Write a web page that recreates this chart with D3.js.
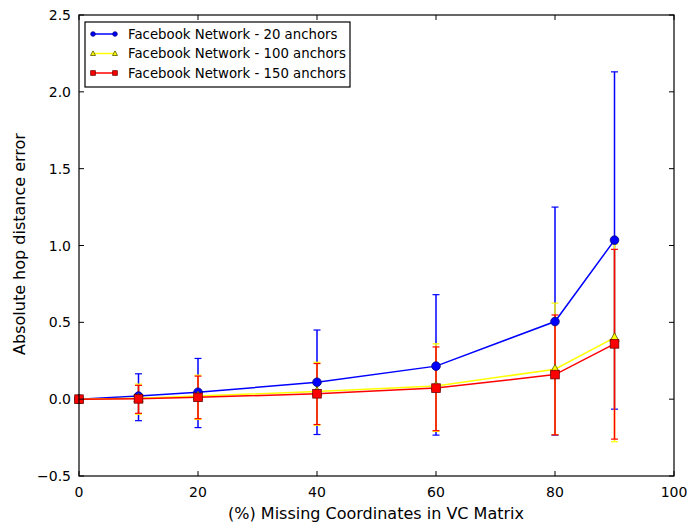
<!DOCTYPE html>
<html>
<head>
<meta charset="utf-8">
<script src="https://cdn.jsdelivr.net/npm/d3@7"></script>
<style>
  html, body { margin: 0; padding: 0; background: #fff; }
  svg { display: block; font-family: "DejaVu Sans", sans-serif; }
</style>
</head>
<body>
<svg id="chart" width="687" height="525"></svg>
<script>
// Missing coordinates (%) on the x axis
const missing = [0, 10, 20, 40, 60, 80, 90];

// Mean absolute hop distance error per anchor count
const err20 = [0, 0.02, 0.045, 0.11, 0.215, 0.505, 1.035];
const err100 = [0, 0.006, 0.02, 0.05, 0.085, 0.195, 0.40];
const err150 = [0, 0.002, 0.012, 0.035, 0.072, 0.16, 0.36];

// Error bar extents (lower / upper)
const lo20 = [0, -0.14, -0.185, -0.23, -0.234, -0.234, -0.065];
const hi20 = [0, 0.165, 0.265, 0.45, 0.68, 1.25, 2.13];
const lo100 = [0, -0.098, -0.132, -0.17, -0.21, -0.23, -0.277];
const hi100 = [0, 0.098, 0.156, 0.24, 0.36, 0.625, 1.01];
const lo150 = [0, -0.092, -0.127, -0.165, -0.205, -0.232, -0.26];
const hi150 = [0, 0.09, 0.15, 0.232, 0.34, 0.548, 0.975];

const seriesNames = [
  "Facebook Network - 20 anchors",
  "Facebook Network - 100 anchors",
  "Facebook Network - 150 anchors"
];

const xTicks = [0, 20, 40, 60, 80, 100];
const yTicks = [-0.5, 0.0, 0.5, 1.0, 1.5, 2.0, 2.5];

const series = [
  { name: seriesNames[0], y: err20, lo: lo20, hi: hi20, color: "#0000ff", marker: "circle" },
  { name: seriesNames[1], y: err100, lo: lo100, hi: hi100, color: "#ffff00", marker: "triangle" },
  { name: seriesNames[2], y: err150, lo: lo150, hi: hi150, color: "#ff0000", marker: "square" }
];

const W = 687, H = 525;
const margin = { top: 15, right: 13, bottom: 49, left: 79 };
const iw = W - margin.left - margin.right;
const ih = H - margin.top - margin.bottom;

const svg = d3.select("#chart");
const g = svg.append("g").attr("transform", `translate(${margin.left},${margin.top})`);

const x = d3.scaleLinear().domain([0, 100]).range([0, iw]);
const y = d3.scaleLinear().domain([-0.5, 2.5]).range([ih, 0]);

svg.append("defs").append("clipPath").attr("id", "plotclip")
  .append("rect").attr("x", -6).attr("y", -1).attr("width", iw + 12).attr("height", ih + 2);

const plot = g.append("g").attr("clip-path", "url(#plotclip)");

// Error bars first (drawn beneath lines and markers)
const capHalf = 3.5;
series.forEach(s => {
  const eb = plot.append("g");
  missing.forEach((mx, i) => {
    if (s.hi[i] === s.lo[i]) return;
    const cx = x(mx);
    eb.append("line")
      .attr("x1", cx).attr("x2", cx)
      .attr("y1", y(s.lo[i])).attr("y2", y(s.hi[i]))
      .attr("stroke", s.color).attr("stroke-width", 1.5);
    [s.lo[i], s.hi[i]].forEach(v => {
      eb.append("line")
        .attr("x1", cx - capHalf).attr("x2", cx + capHalf)
        .attr("y1", y(v)).attr("y2", y(v))
        .attr("stroke", s.color).attr("stroke-width", 1.2);
    });
  });
});

const lineGen = d3.line().x((d, i) => x(missing[i])).y(d => y(d));

function drawMarker(sel, type, cx, cy, color, size) {
  if (type === "circle") {
    sel.append("circle").attr("cx", cx).attr("cy", cy).attr("r", size)
      .attr("fill", color).attr("stroke", "#00007a").attr("stroke-width", 0.8);
  } else if (type === "square") {
    sel.append("rect").attr("x", cx - size).attr("y", cy - size)
      .attr("width", size * 2).attr("height", size * 2)
      .attr("fill", color).attr("stroke", "#6b0000").attr("stroke-width", 0.8);
  } else {
    const r = size * 1.15;
    const pts = [[cx, cy - r], [cx + r * 0.95, cy + r * 0.75], [cx - r * 0.95, cy + r * 0.75]];
    sel.append("path").attr("d", "M" + pts.map(p => p.join(",")).join("L") + "Z")
      .attr("fill", color).attr("stroke", "#555500").attr("stroke-width", 0.8);
  }
}

series.forEach(s => {
  plot.append("path").datum(s.y).attr("d", lineGen)
    .attr("fill", "none").attr("stroke", s.color).attr("stroke-width", 1.5);
  const mk = plot.append("g");
  s.y.forEach((v, i) => drawMarker(mk, s.marker, x(missing[i]), y(v), s.color, 4.3));
});

// Frame
g.append("rect").attr("width", iw).attr("height", ih)
  .attr("fill", "none").attr("stroke", "#000").attr("stroke-width", 1.2);

// Inward ticks on all four sides
const tickLen = 5;
const ticks = g.append("g").attr("stroke", "#000").attr("stroke-width", 1);
xTicks.forEach(t => {
  ticks.append("line").attr("x1", x(t)).attr("x2", x(t)).attr("y1", ih).attr("y2", ih - tickLen);
  ticks.append("line").attr("x1", x(t)).attr("x2", x(t)).attr("y1", 0).attr("y2", tickLen);
});
yTicks.forEach(t => {
  ticks.append("line").attr("x1", 0).attr("x2", tickLen).attr("y1", y(t)).attr("y2", y(t));
  ticks.append("line").attr("x1", iw).attr("x2", iw - tickLen).attr("y1", y(t)).attr("y2", y(t));
});

// Tick labels
g.append("g").selectAll("text").data(xTicks).join("text")
  .attr("x", d => x(d)).attr("y", ih + 21)
  .attr("text-anchor", "middle").attr("font-size", 14).attr("fill", "#000")
  .text(d => d3.format("d")(d));

g.append("g").selectAll("text").data(yTicks).join("text")
  .attr("x", -8).attr("y", d => y(d) + 5)
  .attr("text-anchor", "end").attr("font-size", 14).attr("fill", "#000")
  .text(d => (d < 0 ? "\u2212" : "") + d3.format(".1f")(Math.abs(d)));

// Axis titles
svg.append("text")
  .attr("x", 376).attr("y", 519)
  .attr("text-anchor", "middle").attr("font-size", 16).attr("fill", "#000")
  .text("(%) Missing Coordinates in VC Matrix");

svg.append("text")
  .attr("transform", `translate(25,244) rotate(-90)`)
  .attr("text-anchor", "middle").attr("font-size", 16).attr("fill", "#000")
  .text("Absolute hop distance error");

// Legend
const lg = g.append("g").attr("transform", "translate(6,7)");
lg.append("rect").attr("width", 265).attr("height", 65)
  .attr("fill", "#fff").attr("stroke", "#000").attr("stroke-width", 1.2);
series.forEach((s, i) => {
  const ly = 12 + i * 19.5;
  lg.append("line").attr("x1", 8).attr("x2", 30).attr("y1", ly).attr("y2", ly)
    .attr("stroke", s.color).attr("stroke-width", 1.5);
  [8, 30].forEach(mx => drawMarker(lg, s.marker, mx, ly, s.color, 2.3));
  lg.append("text").attr("x", 43).attr("y", ly + 4.5)
    .attr("font-size", 13.3).attr("fill", "#000").text(s.name);
});
</script>
</body>
</html>
